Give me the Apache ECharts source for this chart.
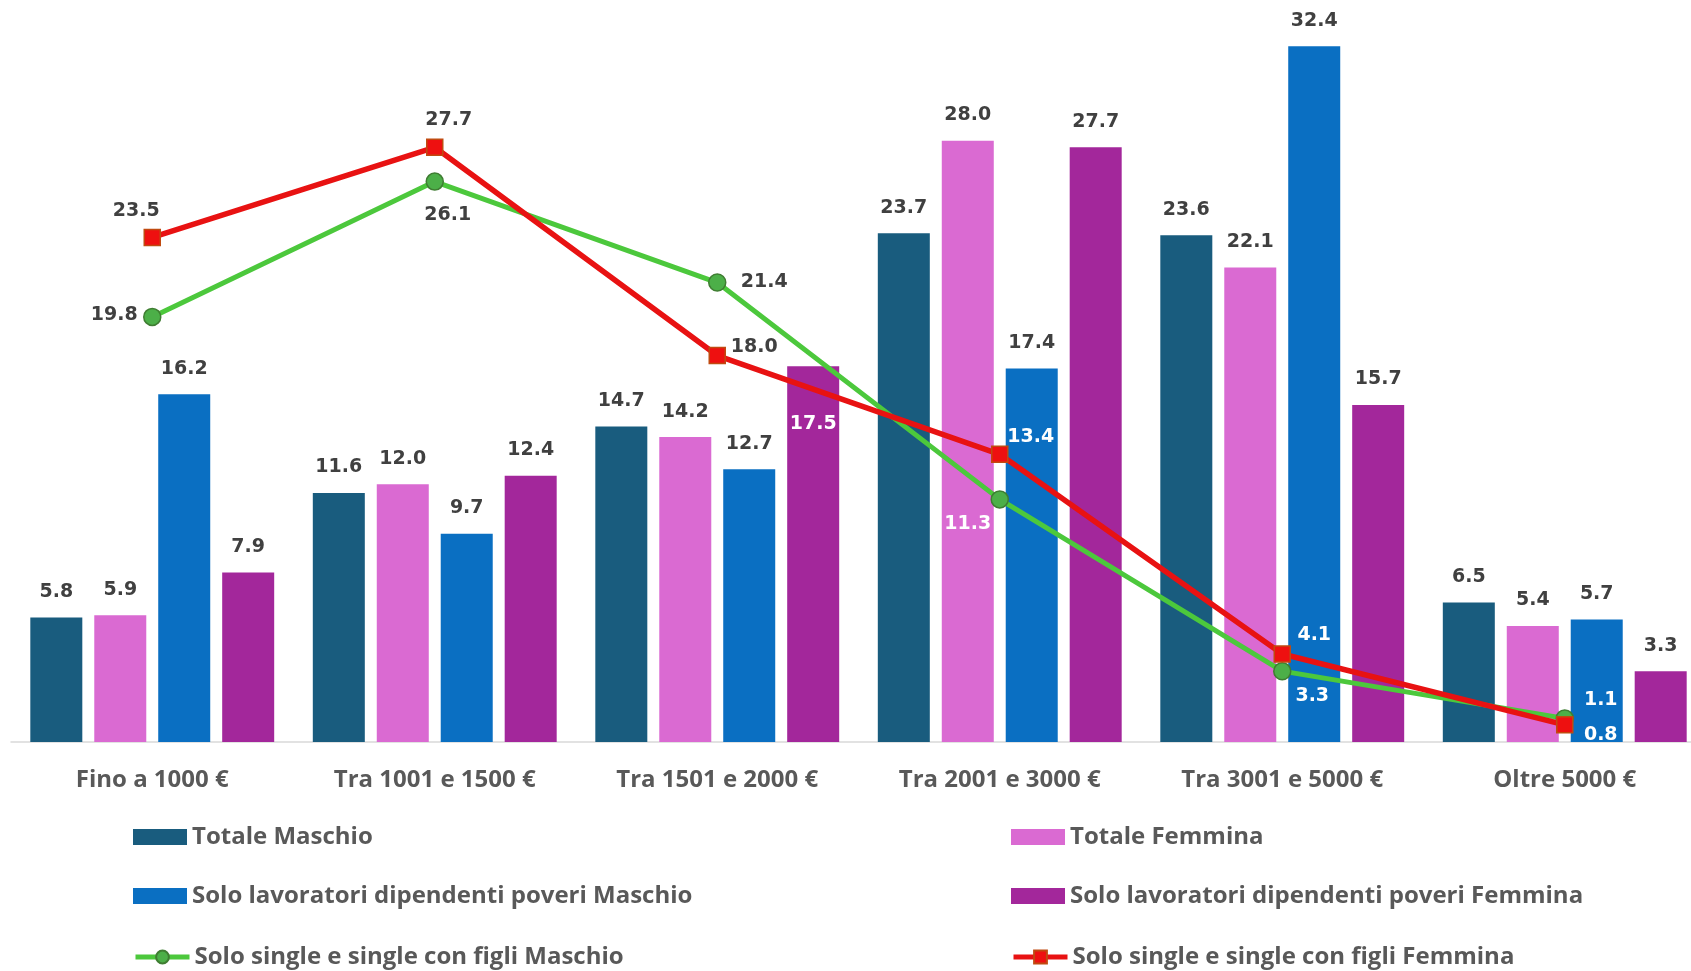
<!DOCTYPE html>
<html>
<head>
<meta charset="utf-8">
<script src="https://cdn.jsdelivr.net/npm/echarts@6/dist/echarts.min.js"></script>
<style>
  html, body { margin: 0; padding: 0; background: #fff; }
  #chart { width: 1691px; height: 971px; }
</style>
</head>
<body>
<div id="chart"></div>
<script>
const categories = ["Fino a 1000 €", "Tra 1001 e 1500 €", "Tra 1501 e 2000 €", "Tra 2001 e 3000 €", "Tra 3001 e 5000 €", "Oltre 5000 €"];

const totaleMaschio = [5.8, 11.6, 14.7, 23.7, 23.6, 6.5];
const totaleFemmina = [5.9, 12.0, 14.2, 28.0, 22.1, 5.4];
const lavoratoriMaschio = [16.2, 9.7, 12.7, 17.4, 32.4, 5.7];
const lavoratoriFemmina = [7.9, 12.4, 17.5, 27.7, 15.7, 3.3];
const singleMaschio = [19.8, 26.1, 21.4, 11.3, 3.3, 1.1];
const singleFemmina = [23.5, 27.7, 18.0, 13.4, 4.1, 0.8];

const seriesNames = [
  "Totale Maschio",
  "Totale Femmina",
  "Solo lavoratori dipendenti poveri Maschio",
  "Solo lavoratori dipendenti poveri Femmina",
  "Solo single e single con figli Maschio",
  "Solo single e single con figli Femmina"
];

// posizioni delle etichette delle linee (offset dal marcatore)
const greenLabelOffsets = [[-38, -2], [13, 33], [47, 0], [-32, 25], [30, 25], [36, -18]];
const redLabelOffsets = [[-16, -26], [14, -27], [37, -8], [31, -17], [32, -19], [36, 10]];
const greenLabelWhite = [false, false, false, true, true, true];
const redLabelWhite = [false, false, false, true, true, true];

const chart = echarts.init(document.getElementById("chart"));

const labelFont = {
  fontFamily: "DejaVu Sans, Verdana, sans-serif",
  fontSize: 19,
  fontWeight: "bold",
  color: "#404040"
};

function barSeries(name, data, color) {
  return {
    name: name,
    type: "bar",
    data: data,
    barWidth: 52,
    barGap: "23%",
    itemStyle: { color: color },
    label: Object.assign({ show: true, position: "top", distance: 16, formatter: (p) => p.value.toFixed(1) }, labelFont),
    z: 2
  };
}

function lineData(values, offsets, white) {
  return values.map((v, i) => ({
    value: v,
    label: {
      offset: offsets[i],
      color: white[i] ? "#ffffff" : "#404040"
    }
  }));
}

// etichetta 17.5 dentro la barra
const lavFemData = lavoratoriFemmina.map((v, i) =>
  i === 2
    ? { value: v, label: { position: "insideTop", distance: 48, color: "#ffffff" } }
    : v
);

const legendText = {
  fontFamily: "Open Sans, Liberation Sans, sans-serif",
  fontSize: 24,
  fontWeight: "bold",
  color: "#595959"
};
const legendPos = [
  [133, 825], [1011, 825],
  [133, 884], [1011, 884],
  [133, 945], [1011, 945]
];

const option = {
  animation: false,
  backgroundColor: "#ffffff",
  grid: { left: 11, top: 12, width: 1695, bottom: 229, containLabel: false, outerBoundsMode: "none" },
  legend: seriesNames.map((n, i) => ({
    data: [n],
    left: legendPos[i][0],
    top: legendPos[i][1],
    itemWidth: 54,
    itemHeight: 16,
    icon: i < 4 ? "rect" : undefined,
    lineStyle: i < 4 ? undefined : { width: 5 },
    padding: 0,
    textStyle: legendText,
    selectedMode: false
  })),
  xAxis: {
    type: "category",
    data: categories,
    axisLine: { lineStyle: { color: "#d9d9d9", width: 1.5 } },
    axisTick: { show: false },
    axisLabel: {
      margin: 26,
      fontFamily: "Open Sans, Liberation Sans, sans-serif",
      fontSize: 24,
      fontWeight: "bold",
      color: "#595959"
    }
  },
  yAxis: {
    type: "value",
    min: 0,
    max: 34,
    show: false,
    splitLine: { show: false }
  },
  series: [
    barSeries(seriesNames[0], totaleMaschio, "#195c7e"),
    barSeries(seriesNames[1], totaleFemmina, "#da6ad2"),
    barSeries(seriesNames[2], lavoratoriMaschio, "#0a6fc2"),
    barSeries(seriesNames[3], lavFemData, "#a3279b"),
    {
      name: seriesNames[4],
      type: "line",
      data: lineData(singleMaschio, greenLabelOffsets, greenLabelWhite),
      symbol: "circle",
      symbolSize: 17,
      lineStyle: { color: "#4cc83c", width: 5 },
      itemStyle: { color: "#4caf48", borderColor: "#3f7d32", borderWidth: 1.5 },
      label: Object.assign({ show: true, position: "inside", formatter: (p) => p.value.toFixed(1) }, labelFont),
      z: 5
    },
    {
      name: seriesNames[5],
      type: "line",
      data: lineData(singleFemmina, redLabelOffsets, redLabelWhite),
      symbol: "rect",
      symbolSize: 16,
      lineStyle: { color: "#e81212", width: 5.5 },
      itemStyle: { color: "#ee1010", borderColor: "#c04a10", borderWidth: 1.5 },
      label: Object.assign({ show: true, position: "inside", formatter: (p) => p.value.toFixed(1) }, labelFont),
      z: 6
    }
  ]
};

chart.setOption(option);
</script>
</body>
</html>
